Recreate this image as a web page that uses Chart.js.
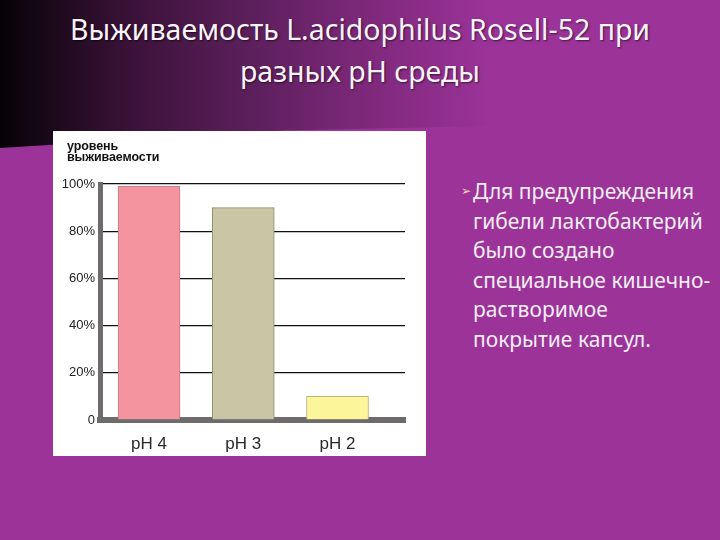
<!DOCTYPE html>
<html>
<head>
<meta charset="utf-8">
<script src="https://cdn.jsdelivr.net/npm/chart.js@4/dist/chart.umd.min.js"></script>
<style>
  html, body { margin: 0; padding: 0; }
  body {
    width: 720px; height: 540px; position: relative; overflow: hidden;
    background: #9b3399;
    font-family: "Noto Sans", sans-serif;
  }
  #band {
    position: absolute; left: 0; top: 0; width: 720px; height: 148px;
    background: linear-gradient(to right, #050305 0%, #1e0a1d 8%, #3a1238 18%, #5a1f5a 34%, #7c2879 50%, #9b3399 68%);
    clip-path: polygon(0 0, 100% 0, 100% 82%, 40% 88%, 0 100%);
  }
  #title {
    position: absolute; left: 0; top: 8px; width: 720px; text-align: center;
    color: #fbf3fb; font-size: 28.5px; line-height: 42px;
    text-shadow: 1px 1px 2px rgba(0,0,0,0.6);
  }
  #panel {
    position: absolute; left: 53px; top: 131px; width: 373px; height: 325px;
    background: #fff;
  }
  #chart { position: absolute; left: 0; top: 0; }
  #caption {
    position: absolute; left: 14px; top: 10px;
    font-family: "Liberation Sans", sans-serif; font-weight: bold; font-size: 12.5px;
    line-height: 11px; color: #111; letter-spacing: -0.1px;
  }
  #bullet {
    position: absolute; left: 473px; top: 177px; width: 245px;
    color: #f6eef6; font-size: 21px; line-height: 29.5px;
  }
  #bullet .mark {
    position: absolute; left: -12px; top: 0; font-family: "DejaVu Sans"; font-size: 12px;
    color: #f2d0b0;
  }
</style>
</head>
<body>
<div id="band"></div>
<div id="title">Выживаемость L.acidophilus Rosell-52 при<br>разных pH среды</div>
<div id="panel">
  <canvas id="chart" width="373" height="325"></canvas>
  <div id="caption">уровень<br>выживаемости</div>
</div>
<div id="bullet"><span class="mark">➢</span>Для предупреждения<br>гибели лактобактерий<br>было создано<br>специальное кишечно-<br>растворимое<br>покрытие капсул.</div>
<script>
// survival level by pH
const categories = ["pH 4", "pH 3", "pH 2"];
const survival = [99, 90, 10];
const yTicks = [0, 20, 40, 60, 80, 100];
const yTickLabels = ["0", "20%", "40%", "60%", "80%", "100%"];
const barColors = ["#f4949f", "#c8c6a4", "#fcf59a"];
const barBorders = ["#c47c86", "#8e8c72", "#bcb47a"];

const ctx = document.getElementById("chart");

new Chart(ctx, {
  type: "bar",
  data: {
    datasets: [
      {
        label: "уровень выживаемости",
        data: survival.map((v, i) => ({ x: i + 1, y: v })),
        backgroundColor: barColors,
        borderColor: barBorders,
        borderWidth: 1,
        barThickness: 62,
      },
    ],
  },
  options: {
    responsive: false,
    animation: false,
    layout: { padding: { top: 53, left: 6, right: 21, bottom: 0 } },
    plugins: {
      legend: { display: false },
      tooltip: { enabled: false },
    },
    scales: {
      x: {
        type: "linear",
        offset: false,
        min: 0.48,
        max: 3.716,
        z: 1,
        grid: { display: false, offset: false },
        border: { display: true, color: "#6e6b6c", width: 6 },
        afterBuildTicks: (scale) => {
          scale.ticks = categories.map((c, i) => ({ value: i + 1 }));
        },
        afterFit: (scale) => { scale.height = 36; },
        ticks: {
          color: "#2a2a2a",
          padding: 6,
          font: { family: "Liberation Sans", size: 17 },
          callback: (value) => categories[value - 1],
        },
      },
      y: {
        min: 0,
        max: 100,
        afterBuildTicks: (scale) => {
          scale.ticks = yTicks.map((v) => ({ value: v }));
        },
        afterFit: (scale) => { scale.width = 41; },
        grid: { color: "#111", lineWidth: 1.3, drawTicks: false },
        border: { display: true, color: "#6e6b6c", width: 5 },
        ticks: {
          color: "#222",
          padding: 5,
          font: { family: "Liberation Sans", size: 13 },
          callback: (value) => yTickLabels[yTicks.indexOf(value)],
        },
      },
    },
  },
});
</script>
</body>
</html>
